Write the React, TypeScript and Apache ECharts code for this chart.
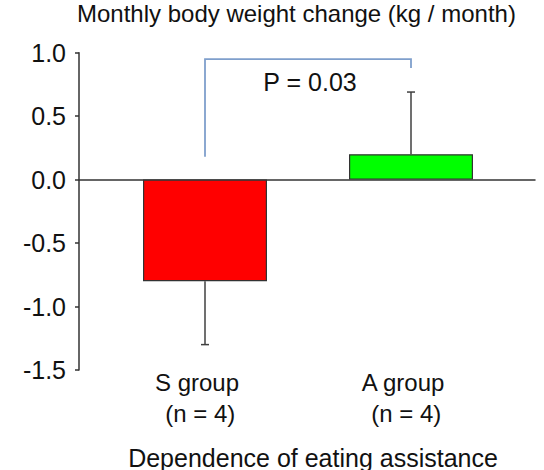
import React, { useEffect, useRef } from "react";
import * as echarts from "echarts";

const categories = ["S group\n (n = 4)", "A group\n (n = 4)"];
const means = [-0.8, 0.2];
const errorEnds = [-1.3, 0.69];
const barColors = ["#ff0000", "#00ff00"];
const yTicks = { min: -1.5, max: 1.0, interval: 0.5 };
// bracket: [left base, top, right base] in y units
const bracket = [0.18, 0.95, 0.88];
const pLabel = "P = 0.03";
const pLabelY = 0.77;

const FONT = "'Liberation Sans', Arial, sans-serif";

export default function App() {
  const ref = useRef<HTMLDivElement>(null);
  useEffect(() => {
    if (!ref.current) return;
    const chart = echarts.init(ref.current, undefined, { renderer: "svg" });
    const option: any = {
      animation: false,
      textStyle: { fontFamily: FONT },
      title: [
        {
          text: "Monthly body weight change (kg / month)",
          left: 77,
          top: 1,
          padding: 0,
          textStyle: { fontFamily: FONT, fontSize: 24, fontWeight: "normal", color: "#111" },
        },
        {
          text: "Dependence of eating assistance",
          left: 313,
          textAlign: "center",
          top: 445,
          padding: 0,
          textStyle: { fontFamily: FONT, fontSize: 25, fontWeight: "normal", color: "#111" },
        },
      ],
      grid: [
        { left: 79, right: 9, top: 52.7, bottom: 100, containLabel: false },
        { left: 102, right: 30, top: 52.7, bottom: 100, containLabel: false },
      ],
      xAxis: [
        {
          type: "category",
          gridIndex: 0,
          data: categories,
          axisLine: { onZero: true, lineStyle: { color: "#333", width: 1.5 } },
          axisTick: { show: false },
          axisLabel: { show: false },
        },
        {
          type: "category",
          gridIndex: 1,
          data: categories,
          axisLine: { show: false, onZero: false },
          axisTick: { show: false },
          axisLabel: {
            fontFamily: FONT,
            fontSize: 24,
            color: "#111",
            lineHeight: 31,
            margin: -3,
            padding: [0, 16, 0, 0],
          },
        },
      ],
      yAxis: [
        {
          type: "value",
          gridIndex: 0,
          min: yTicks.min,
          max: yTicks.max,
          interval: yTicks.interval,
          axisLine: { show: true, lineStyle: { color: "#333", width: 1.5 } },
          axisTick: { show: true, inside: false, length: 4, lineStyle: { color: "#333", width: 1.5 } },
          splitLine: { show: false },
          axisLabel: {
            fontFamily: FONT,
            fontSize: 25,
            color: "#111",
            margin: 13,
            formatter: (v: number) => v.toFixed(1),
          },
        },
        {
          type: "value",
          gridIndex: 1,
          min: yTicks.min,
          max: yTicks.max,
          interval: yTicks.interval,
          show: false,
        },
      ],
      series: [
        {
          type: "bar",
          xAxisIndex: 1,
          yAxisIndex: 1,
          barWidth: 124,
          data: means.map((v, i) => ({
            value: v,
            itemStyle: { color: barColors[i], borderColor: "#333", borderWidth: 1.2 },
          })),
          z: 2,
        },
        {
          type: "custom",
          xAxisIndex: 1,
          yAxisIndex: 1,
          data: means.map((m, i) => [i, m, errorEnds[i]]),
          z: 1,
          renderItem: (params: any, api: any) => {
            const x = api.value(0);
            const p0 = api.coord([x, api.value(1)]);
            const p1 = api.coord([x, api.value(2)]);
            const style = { stroke: "#404040", lineWidth: 1.5 };
            return {
              type: "group",
              children: [
                { type: "line", shape: { x1: p0[0], y1: p0[1], x2: p1[0], y2: p1[1] }, style },
                { type: "line", shape: { x1: p1[0] - 4, y1: p1[1], x2: p1[0] + 4, y2: p1[1] }, style },
              ],
            };
          },
        },
        {
          type: "custom",
          xAxisIndex: 1,
          yAxisIndex: 1,
          data: [[0, 1, bracket[0], bracket[1], bracket[2], pLabelY]],
          renderItem: (params: any, api: any) => {
            const a = api.coord([api.value(0), api.value(2)]);
            const t = api.coord([api.value(0), api.value(3)]);
            const b = api.coord([api.value(1), api.value(4)]);
            const tr = api.coord([api.value(1), api.value(3)]);
            const ly = api.coord([api.value(0), api.value(5)])[1];
            return {
              type: "group",
              children: [
                {
                  type: "polyline",
                  shape: { points: [a, t, tr, b] },
                  style: { stroke: "#7f9fcc", lineWidth: 1.8, fill: "none" },
                },
                {
                  type: "text",
                  x: (a[0] + b[0]) / 2 + 2,
                  y: ly,
                  style: {
                    text: pLabel,
                    fontFamily: FONT,
                    fontSize: 25,
                    fill: "#111",
                    align: "center",
                    verticalAlign: "middle",
                  },
                },
              ],
            };
          },
        },
      ],
    };
    chart.setOption(option);
    return () => chart.dispose();
  }, []);
  return (
    <div
      ref={ref}
      style={{ position: "absolute", left: 0, top: 0, width: 544, height: 470 }}
    />
  );
}
